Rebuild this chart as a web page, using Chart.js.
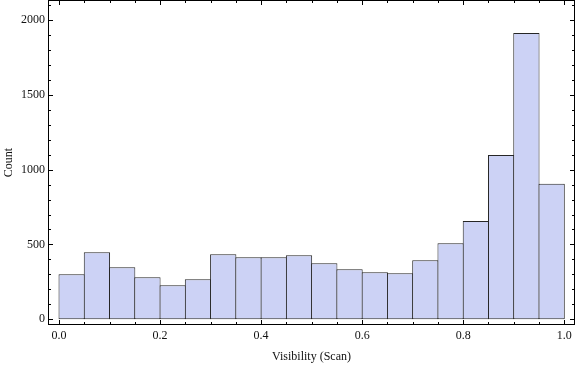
<!DOCTYPE html>
<html>
<head>
<meta charset="utf-8">
<script src="https://cdn.jsdelivr.net/npm/chart.js@4/dist/chart.umd.min.js"></script>
<style>
  html, body { margin: 0; padding: 0; background: #fff; }
  #wrap { width: 576px; height: 366px; }
</style>
</head>
<body>
<div id="wrap"><canvas id="histCanvas" width="576" height="366"></canvas></div>
<script>
// Данные гистограммы
const binStarts = [0.00, 0.05, 0.10, 0.15, 0.20, 0.25, 0.30, 0.35, 0.40, 0.45,
                   0.50, 0.55, 0.60, 0.65, 0.70, 0.75, 0.80, 0.85, 0.90, 0.95];
const binWidth = 0.05;
const counts = [301, 448, 348, 281, 227, 268, 435, 415, 415, 428,
                375, 335, 314, 308, 395, 508, 656, 1097, 1913, 905];
const xTickLabels = [0.0, 0.2, 0.4, 0.6, 0.8, 1.0];
const yTickLabels = [0, 500, 1000, 1500, 2000];

const fontSerif = "'Liberation Serif', 'DejaVu Serif', serif";

// Рамка и внутренние засечки
const frameTicks = {
    id: 'frameTicks',
    afterDatasetsDraw(chart) {
        const ctx = chart.ctx;
        const a = chart.chartArea;
        const xs = chart.scales.x, ys = chart.scales.y;
        ctx.save();
        ctx.strokeStyle = '#000';
        ctx.lineWidth = 1;
        ctx.strokeRect(Math.round(a.left) + 0.5, Math.round(a.top) + 0.5,
            Math.round(a.right - a.left) - 1, Math.round(a.bottom - a.top) - 1);
        ctx.beginPath();
        // x: минорные каждые 0.05
        for (let i = 0; i <= 20; i++) {
            const v = i * 0.05;
            const px = Math.round(xs.getPixelForValue(v)) + 0.5;
            const len = (i % 4 === 0) ? 5 : 3;
            ctx.moveTo(px, a.bottom); ctx.lineTo(px, a.bottom - len);
            ctx.moveTo(px, a.top); ctx.lineTo(px, a.top + len);
        }
        // y: минорные каждые 100
        for (let v = 0; v <= 2100; v += 100) {
            const py = Math.round(ys.getPixelForValue(v)) + 0.5;
            if (py < a.top + 1) continue;
            const len = (v % 500 === 0) ? 5 : 3;
            ctx.moveTo(a.left, py); ctx.lineTo(a.left + len, py);
            ctx.moveTo(a.right, py); ctx.lineTo(a.right - len, py);
        }
        ctx.stroke();
        ctx.restore();
    }
};

const barData = binStarts.map((s, i) => ({ x: s + binWidth / 2, y: counts[i] }));

new Chart(document.getElementById('histCanvas'), {
    type: 'bar',
    data: {
        datasets: [{
            data: barData,
            backgroundColor: 'rgb(204, 210, 245)',
            borderColor: '#262626',
            borderWidth: 1,
            borderSkipped: false,
            // перекрытие на 1px, чтобы соседние рамки слились в одну линию
            barPercentage: 1.04,
            categoryPercentage: 1.0
        }]
    },
    options: {
        responsive: false,
        animation: false,
        layout: { padding: { top: 0, right: 1, left: 0, bottom: 0 } },
        plugins: { legend: { display: false }, tooltip: { enabled: false } },
        scales: {
            x: {
                type: 'linear',
                offset: false,
                min: -0.0218,
                max: 1.0212,
                grid: { display: false, drawTicks: false },
                border: { display: false },
                afterBuildTicks: (s) => { s.ticks = xTickLabels.map(v => ({ value: v })); },
                afterFit: (s) => { s.height = 41; s.paddingLeft = 0; s.paddingRight = 0; },
                ticks: {
                    color: '#111',
                    font: { family: fontSerif, size: 12 },
                    padding: 4,
                    maxRotation: 0,
                    callback: (v) => v.toFixed(1)
                },
                title: {
                    display: true,
                    text: 'Visibility (Scan)',
                    color: '#111',
                    font: { family: fontSerif, size: 12 },
                    padding: { top: 4, bottom: 2 }
                }
            },
            y: {
                min: -38,
                max: 2133,
                grid: { display: false, drawTicks: false },
                border: { display: false },
                afterBuildTicks: (s) => { s.ticks = yTickLabels.map(v => ({ value: v })); },
                afterFit: (s) => { s.width = 48; s.paddingTop = 0; s.paddingBottom = 0; },
                ticks: {
                    color: '#111',
                    font: { family: fontSerif, size: 12 },
                    padding: 3,
                    callback: (v) => String(v)
                },
                title: {
                    display: true,
                    text: 'Count',
                    color: '#111',
                    font: { family: fontSerif, size: 12 },
                    padding: { top: 2, bottom: 2 }
                }
            }
        }
    },
    plugins: [frameTicks]
});
</script>
</body>
</html>
